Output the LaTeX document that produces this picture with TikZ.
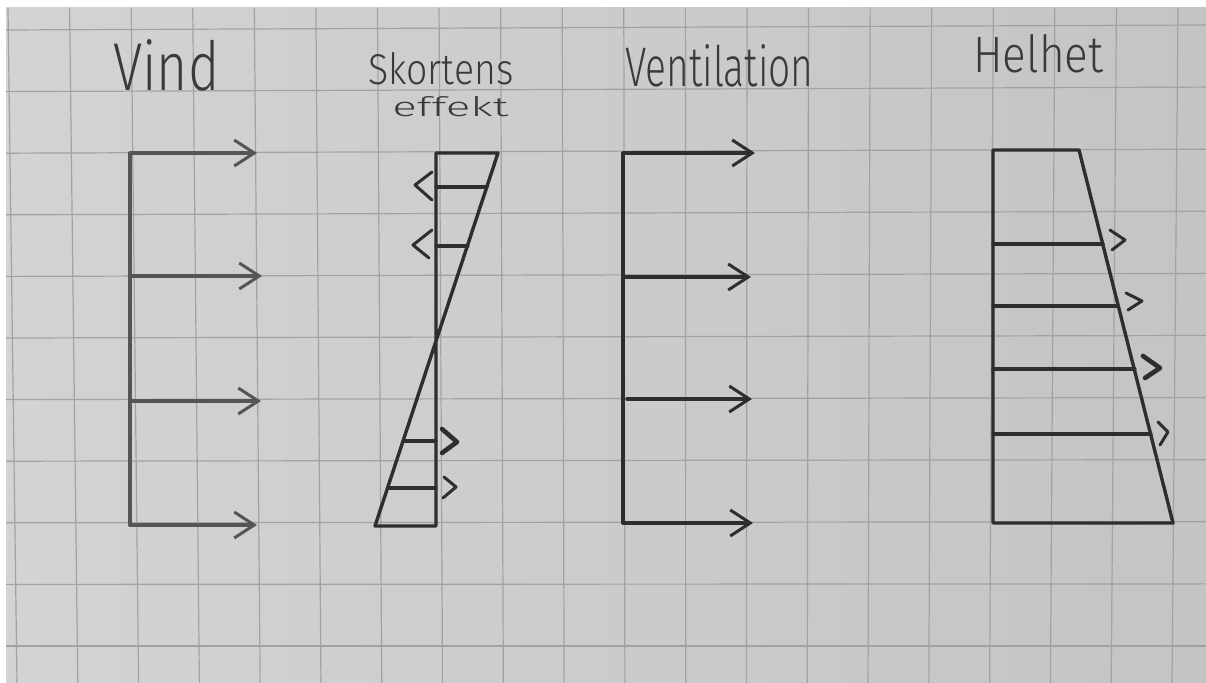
\documentclass[tikz,border=0pt]{standalone}
\usepackage{fontspec}
\setmainfont{Fira Sans}
\IfFontExistsTF{Fira Sans Light}{\newfontfamily\hand{Fira Sans Light}}{%
 \IfFontExistsTF{Open Sans Light}{\newfontfamily\hand{Open Sans Light}}{%
  \IfFontExistsTF{Lato Light}{\newfontfamily\hand{Lato Light}}{%
   \IfFontExistsTF{DejaVu Sans ExtraLight}{\newfontfamily\hand{DejaVu Sans ExtraLight}}{%
    \newfontfamily\hand{Fira Sans}}}}}
\usetikzlibrary{arrows.meta}
\definecolor{paperA}{HTML}{D3D3D1}
\definecolor{paperB}{HTML}{C4C4C2}
\definecolor{gridc}{HTML}{A2A2A2}
\definecolor{inkA}{HTML}{555555}
\definecolor{inkB}{HTML}{2E2E2E}
\definecolor{txtc}{HTML}{3A3A3A}
\tikzset{
  gridline/.style={draw=gridc, line width=0.6pt},
  ink/.style={line width=1.7pt, line cap=round, line join=round},
  hatch/.style={line width=1.6pt, line cap=round},
  windarrow/.style={ink, -{Straight Barb[length=10pt,width=13pt,line width=1.5pt]}},
  chev/.style={line width=1.5pt, line cap=round, line join=round},
  chevbold/.style={line width=2.3pt, line cap=round, line join=round},
  lbl/.style={inner sep=0pt, anchor=base west, text=txtc, font=\hand}
}
\begin{document}
\begin{tikzpicture}[x=0.5pt,y=-0.5pt]
\useasboundingbox (0,0) rectangle (1206,683);
\fill[white] (0,0) rectangle (1206,683);
\shade[left color=paperA,right color=paperB] (6,8) rectangle (1206,683);
% grid
\foreach \k in {0,...,19}{
  \draw[gridline] ({8+61.58*\k},8) -- ({17+60.79*\k},683);
}
\foreach \j in {0,...,10}{
  \draw[gridline] (6,{30+61.6*\j}) -- (1206,{25+62.1*\j});
}

% ---------- Vind ----------
\node[lbl] (tVind) at (113,91) {\resizebox{53pt}{25.5pt}{Vind}};
\coordinate (v1) at (130,153);
\coordinate (v2) at (130,276);
\coordinate (v3) at (130,401);
\coordinate (v4) at (130,525);
\coordinate (v1e) at (257,153);
\coordinate (v2e) at (262,276);
\coordinate (v3e) at (261,401);
\coordinate (v4e) at (257,525);
\draw[ink, draw=inkA] (v1) -- (v4);
\foreach \a in {1,...,4}{
  \draw[windarrow, draw=inkA] (v\a) -- (v\a e);
}

% ---------- Skortens effekt ----------
\node[lbl] (tSk) at (368,85) {\resizebox{72.5pt}{16pt}{Skortens}};
\node[lbl] (tEf) at (392,117) {\resizebox{58pt}{10pt}{effekt}};
\coordinate (s1) at (436,153);
\coordinate (s2) at (498,153);
\coordinate (s3) at (375,526);
\coordinate (s4) at (436,526);
\draw[ink, draw=inkB] (s1) -- (s2) -- (s3) -- (s4) -- cycle;
\draw[hatch, draw=inkB] (436,187) -- (487,187);
\draw[hatch, draw=inkB] (436,246) -- (468,246);
\draw[hatch, draw=inkB] (404,441) -- (436,441);
\draw[hatch, draw=inkB] (388,488) -- (436,488);
\draw[chev, draw=inkB] (432,172) -- (415,185) -- (432,200);
\draw[chev, draw=inkB] (432,230) -- (413,245) -- (429,258);
\draw[chevbold, draw=inkB] (442,429) -- (457,442) -- (442,453);
\draw[chev, draw=inkB] (444,477) -- (456,487) -- (443,498);

% ---------- Ventilation ----------
\node[lbl] (tVe) at (625,87) {\resizebox{94pt}{21pt}{Ventilation}};
\coordinate (w1) at (623,153);
\coordinate (w2) at (623,277);
\coordinate (w3) at (627,399);
\coordinate (w4) at (623,523);
\coordinate (w1e) at (755,153);
\coordinate (w2e) at (751,277);
\coordinate (w3e) at (752,399);
\coordinate (w4e) at (753,523);
\draw[ink, draw=inkB] (w1) -- (w4);
\foreach \a in {1,...,4}{
  \draw[windarrow, draw=inkB] (w\a) -- (w\a e);
}

% ---------- Helhet ----------
\node[lbl] (tHe) at (973,73) {\resizebox{65pt}{19pt}{Helhet}};
\coordinate (h1) at (993,150);
\coordinate (h2) at (1079,150);
\coordinate (h3) at (1173,523);
\coordinate (h4) at (993,523);
\draw[ink, draw=inkB] (h1) -- (h2) -- (h3) -- (h4) -- cycle;
\draw[hatch, draw=inkB] (993,244) -- (1103,244);
\draw[hatch, draw=inkB] (993,306) -- (1117,306);
\draw[hatch, draw=inkB] (993,369) -- (1135,369);
\draw[hatch, draw=inkB] (993,434) -- (1151,434);
\draw[chev, draw=inkB] (1110,230) -- (1125,240) -- (1112,250);
\draw[chev, draw=inkB] (1126,293) -- (1142,301) -- (1128,310);
\draw[chevbold, draw=inkB] (1143,356) -- (1160,368) -- (1145,378);
\draw[chev, draw=inkB] (1158,422) -- (1168,432) -- (1160,445);
\end{tikzpicture}
\end{document}
